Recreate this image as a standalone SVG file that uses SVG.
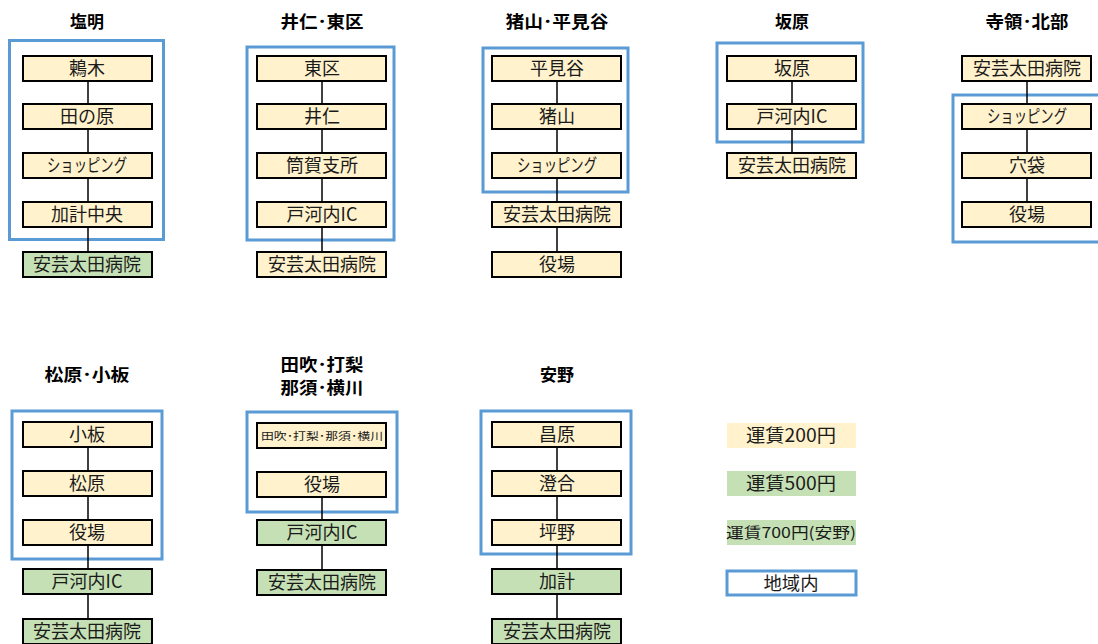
<svg xmlns="http://www.w3.org/2000/svg" width="1098" height="644" viewBox="0 0 1098 644">
<style>
.t{font-family:"Noto Sans CJK JP","Noto Sans",sans-serif;font-size:17px;font-weight:bold;fill:#000;text-anchor:middle}
.n rect{stroke:#000;stroke-width:2}
.y{fill:#fff2cc}
.g{fill:#c5e0b4}
.l{font-family:"Noto Sans CJK JP","Noto Sans",sans-serif;font-size:18px;fill:#1a1a1a;text-anchor:middle}
.s{font-size:10.5px}
.b{fill:none;stroke:#5b9bd5;stroke-width:3}
.c line{stroke:#000;stroke-width:1.5}
</style>
<rect width="1098" height="644" fill="#fff"/>
<g id="titles">
<text class="t" x="87" y="28">塩明</text>
<text class="t" x="322" y="28" textLength="83" lengthAdjust="spacingAndGlyphs">井仁･東区</text>
<text class="t" x="557" y="28" textLength="103" lengthAdjust="spacingAndGlyphs">猪山･平見谷</text>
<text class="t" x="792" y="28">坂原</text>
<text class="t" x="1027" y="28" textLength="83" lengthAdjust="spacingAndGlyphs">寺領･北部</text>
<text class="t" x="87" y="381" textLength="85" lengthAdjust="spacingAndGlyphs">松原･小板</text>
<text class="t" x="322" y="371" textLength="83" lengthAdjust="spacingAndGlyphs">田吹･打梨</text>
<text class="t" x="322" y="394" textLength="83" lengthAdjust="spacingAndGlyphs">那須･横川</text>
<text class="t" x="557" y="381">安野</text>
</g>
<g id="areas">
<rect class="b" x="9.5" y="40.5" width="154" height="199"/>
<rect class="b" x="247" y="47" width="147" height="193"/>
<rect class="b" x="483" y="48" width="145" height="144"/>
<rect class="b" x="717" y="43" width="146" height="99"/>
<rect class="b" x="953" y="95" width="150" height="147"/>
<rect class="b" x="12" y="411" width="150" height="148"/>
<rect class="b" x="247" y="412" width="150" height="100"/>
<rect class="b" x="481" y="411" width="150" height="143"/>
</g>
<g id="connectors" class="c">
<line x1="88" y1="82" x2="88" y2="104"/>
<line x1="88" y1="130" x2="88" y2="153"/>
<line x1="88" y1="179" x2="88" y2="202"/>
<line x1="88" y1="228" x2="88" y2="252"/>
<line x1="322" y1="82" x2="322" y2="104"/>
<line x1="322" y1="130" x2="322" y2="153"/>
<line x1="322" y1="179" x2="322" y2="202"/>
<line x1="322" y1="228" x2="322" y2="252"/>
<line x1="557" y1="82" x2="557" y2="104"/>
<line x1="557" y1="130" x2="557" y2="153"/>
<line x1="557" y1="179" x2="557" y2="202"/>
<line x1="557" y1="228" x2="557" y2="252"/>
<line x1="792" y1="82" x2="792" y2="104"/>
<line x1="792" y1="130" x2="792" y2="153"/>
<line x1="1027" y1="82" x2="1027" y2="104"/>
<line x1="1027" y1="130" x2="1027" y2="153"/>
<line x1="1027" y1="179" x2="1027" y2="202"/>
<line x1="88" y1="448" x2="88" y2="471"/>
<line x1="88" y1="497" x2="88" y2="520"/>
<line x1="88" y1="546" x2="88" y2="569"/>
<line x1="88" y1="595" x2="88" y2="619"/>
<line x1="322" y1="497" x2="322" y2="520"/>
<line x1="322" y1="546" x2="322" y2="570"/>
<line x1="557" y1="448" x2="557" y2="471"/>
<line x1="557" y1="497" x2="557" y2="520"/>
<line x1="557" y1="546" x2="557" y2="569"/>
<line x1="557" y1="595" x2="557" y2="619"/>
</g>
<g id="n-shiomei-1" class="n"><rect class="y" x="23" y="56" width="129" height="25"/><text class="l" x="87" y="75">鶫木</text></g>
<g id="n-shiomei-2" class="n"><rect class="y" x="23" y="104" width="129" height="25"/><text class="l" x="87" y="123">田の原</text></g>
<g id="n-shiomei-3" class="n"><rect class="y" x="23" y="153" width="129" height="25"/><text class="l" x="87" y="172" textLength="80" lengthAdjust="spacingAndGlyphs">ショッピング</text></g>
<g id="n-shiomei-4" class="n"><rect class="y" x="23" y="202" width="129" height="25"/><text class="l" x="87" y="221">加計中央</text></g>
<g id="n-shiomei-5" class="n"><rect class="g" x="23" y="252" width="129" height="25"/><text class="l" x="87" y="271">安芸太田病院</text></g>

<g id="n-ini-1" class="n"><rect class="y" x="257" y="56" width="129" height="25"/><text class="l" x="322" y="75">東区</text></g>
<g id="n-ini-2" class="n"><rect class="y" x="257" y="104" width="129" height="25"/><text class="l" x="322" y="123">井仁</text></g>
<g id="n-ini-3" class="n"><rect class="y" x="257" y="153" width="129" height="25"/><text class="l" x="322" y="172">筒賀支所</text></g>
<g id="n-ini-4" class="n"><rect class="y" x="257" y="202" width="129" height="25"/><text class="l" x="322" y="221">戸河内IC</text></g>
<g id="n-ini-5" class="n"><rect class="y" x="257" y="252" width="129" height="25"/><text class="l" x="322" y="271">安芸太田病院</text></g>

<g id="n-iyama-1" class="n"><rect class="y" x="492" y="56" width="129" height="25"/><text class="l" x="557" y="75">平見谷</text></g>
<g id="n-iyama-2" class="n"><rect class="y" x="492" y="104" width="129" height="25"/><text class="l" x="557" y="123">猪山</text></g>
<g id="n-iyama-3" class="n"><rect class="y" x="492" y="153" width="129" height="25"/><text class="l" x="557" y="172" textLength="80" lengthAdjust="spacingAndGlyphs">ショッピング</text></g>
<g id="n-iyama-4" class="n"><rect class="y" x="492" y="202" width="129" height="25"/><text class="l" x="557" y="221">安芸太田病院</text></g>
<g id="n-iyama-5" class="n"><rect class="y" x="492" y="252" width="129" height="25"/><text class="l" x="557" y="271">役場</text></g>

<g id="n-sakahara-1" class="n"><rect class="y" x="727" y="56" width="129" height="25"/><text class="l" x="792" y="75">坂原</text></g>
<g id="n-sakahara-2" class="n"><rect class="y" x="727" y="104" width="129" height="25"/><text class="l" x="792" y="123">戸河内IC</text></g>
<g id="n-sakahara-3" class="n"><rect class="y" x="727" y="153" width="129" height="25"/><text class="l" x="792" y="172">安芸太田病院</text></g>

<g id="n-jiryo-1" class="n"><rect class="y" x="962" y="56" width="129" height="25"/><text class="l" x="1027" y="75">安芸太田病院</text></g>
<g id="n-jiryo-2" class="n"><rect class="y" x="962" y="104" width="129" height="25"/><text class="l" x="1027" y="123" textLength="80" lengthAdjust="spacingAndGlyphs">ショッピング</text></g>
<g id="n-jiryo-3" class="n"><rect class="y" x="962" y="153" width="129" height="25"/><text class="l" x="1027" y="172">穴袋</text></g>
<g id="n-jiryo-4" class="n"><rect class="y" x="962" y="202" width="129" height="25"/><text class="l" x="1027" y="221">役場</text></g>

<g id="n-matsubara-1" class="n"><rect class="y" x="23" y="422" width="129" height="25"/><text class="l" x="87" y="441">小板</text></g>
<g id="n-matsubara-2" class="n"><rect class="y" x="23" y="471" width="129" height="25"/><text class="l" x="87" y="490">松原</text></g>
<g id="n-matsubara-3" class="n"><rect class="y" x="23" y="520" width="129" height="25"/><text class="l" x="87" y="539">役場</text></g>
<g id="n-matsubara-4" class="n"><rect class="g" x="23" y="569" width="129" height="25"/><text class="l" x="87" y="588">戸河内IC</text></g>
<g id="n-matsubara-5" class="n"><rect class="g" x="23" y="619" width="129" height="25"/><text class="l" x="87" y="638">安芸太田病院</text></g>

<g id="n-tabuki-1" class="n"><rect class="y" x="257" y="423" width="129" height="25"/><text class="l s" x="322" y="439.5" textLength="122" lengthAdjust="spacingAndGlyphs">田吹･打梨･那須･横川</text></g>
<g id="n-tabuki-2" class="n"><rect class="y" x="257" y="472" width="129" height="25"/><text class="l" x="322" y="491">役場</text></g>
<g id="n-tabuki-3" class="n"><rect class="g" x="257" y="520" width="129" height="25"/><text class="l" x="322" y="539">戸河内IC</text></g>
<g id="n-tabuki-4" class="n"><rect class="g" x="257" y="570" width="129" height="25"/><text class="l" x="322" y="589">安芸太田病院</text></g>

<g id="n-yasuno-1" class="n"><rect class="y" x="492" y="422" width="129" height="25"/><text class="l" x="557" y="441">昌原</text></g>
<g id="n-yasuno-2" class="n"><rect class="y" x="492" y="471" width="129" height="25"/><text class="l" x="557" y="490">澄合</text></g>
<g id="n-yasuno-3" class="n"><rect class="y" x="492" y="520" width="129" height="25"/><text class="l" x="557" y="539">坪野</text></g>
<g id="n-yasuno-4" class="n"><rect class="g" x="492" y="569" width="129" height="25"/><text class="l" x="557" y="588">加計</text></g>
<g id="n-yasuno-5" class="n"><rect class="g" x="492" y="619" width="129" height="25"/><text class="l" x="557" y="638">安芸太田病院</text></g>

<g id="legend">
<rect class="y" x="727" y="423" width="129" height="25"/><text class="l" x="791" y="442" textLength="90" lengthAdjust="spacingAndGlyphs">運賃200円</text>
<rect class="g" x="727" y="471" width="129" height="25"/><text class="l" x="791" y="490" textLength="90" lengthAdjust="spacingAndGlyphs">運賃500円</text>
<rect class="g" x="727" y="520" width="129" height="25"/><text class="l" x="791" y="538" style="font-size:15px" textLength="130" lengthAdjust="spacingAndGlyphs">運賃700円(安野)</text>
<rect class="b" x="727" y="571" width="129" height="24" style="fill:#fff"/><text class="l" x="791" y="590" textLength="55" lengthAdjust="spacingAndGlyphs">地域内</text>
</g>
</svg>
